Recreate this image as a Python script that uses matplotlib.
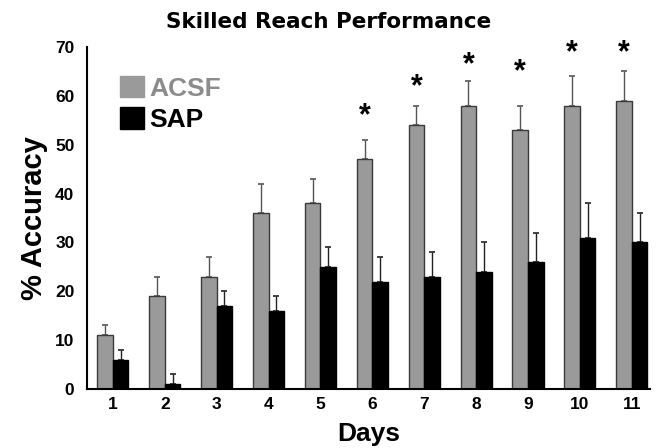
import matplotlib
matplotlib.use("Agg")
import matplotlib.pyplot as plt
import matplotlib.transforms as mtransforms
import numpy as np

days = [1, 2, 3, 4, 5, 6, 7, 8, 9, 10, 11]
acsf_mean = [11, 19, 23, 36, 38, 47, 54, 58, 53, 58, 59]
acsf_err = [2, 4, 4, 6, 5, 4, 4, 5, 5, 6, 6]
sap_mean = [6, 1, 17, 16, 25, 22, 23, 24, 26, 31, 30]
sap_err = [2, 2, 3, 3, 4, 5, 5, 6, 6, 7, 6]
star_days = [6, 7, 8, 9, 10, 11]
star_levels = [57, 63, 67.5, 66, 70, 70]
yticks = [0, 10, 20, 30, 40, 50, 60, 70]

plt.rcParams['font.family'] = ['Liberation Sans', 'DejaVu Sans']

fig = plt.figure(figsize=(6.58, 4.48), dpi=100)
ax = fig.add_axes([0.1322, 0.1317, 0.8556, 0.7634])

x = np.array(days, dtype=float)
w = 0.30
gray = '#9a9a9a'
ax.bar(x - w / 2, acsf_mean, width=w, color=gray, edgecolor='#3a3a3a', linewidth=1.0,
       label='ACSF', zorder=2)
ax.bar(x + w / 2, sap_mean, width=w, color='black', edgecolor='black', linewidth=1.0,
       label='SAP', zorder=2)
ax.errorbar(x - w / 2, acsf_mean, yerr=[np.zeros(len(days)), acsf_err], fmt='none',
            ecolor='#555555', elinewidth=1.0, capsize=2, capthick=1.2, zorder=1)
ax.errorbar(x + w / 2, sap_mean, yerr=[np.zeros(len(days)), sap_err], fmt='none',
            ecolor='#222222', elinewidth=1.0, capsize=2, capthick=1.2, zorder=1)

star_tr = ax.transData + mtransforms.ScaledTranslation(0, -6 / 100, fig.dpi_scale_trans)
for d, lv in zip(star_days, star_levels):
    ax.text(d - w / 2, lv, '*', ha='center', va='center', fontsize=22, fontweight='bold',
            clip_on=False, transform=star_tr)

ax.set_xlim(0.5, 11.35)
ax.set_ylim(0, 70)
ax.set_yticks(yticks)
ax.set_xticks(days)
ax.set_xticklabels([str(d) for d in days])
ax.tick_params(axis='both', length=0, labelsize=12.5, pad=9)
for lab in ax.get_xticklabels() + ax.get_yticklabels():
    lab.set_fontweight('bold')
ax.tick_params(axis='x', pad=6)
for s in ['top', 'right']:
    ax.spines[s].set_visible(False)
for s in ['left', 'bottom']:
    ax.spines[s].set_linewidth(1.5)
    ax.spines[s].set_color('black')

ax.set_ylabel('% Accuracy', fontsize=21, fontweight='bold', labelpad=5)
ax.set_xlabel('Days', fontsize=19, fontweight='bold', labelpad=7)
fig.text(0.5, 0.952, 'Skilled Reach Performance', ha='center', va='center',
         fontsize=15.5, fontweight='bold', family='DejaVu Sans')

leg = ax.legend(loc='upper left', bbox_to_anchor=(0.035, 0.955), frameon=False,
                prop={'size': 19, 'weight': 'bold'}, handlelength=0.9, handleheight=0.9,
                handletextpad=0.2, labelspacing=0.25, borderpad=0)
leg.get_texts()[0].set_color('#8c8c8c')
leg.get_texts()[1].set_color('black')
leg.legend_handles[0].set_edgecolor(gray)

fig.savefig('out.png', dpi=100)
